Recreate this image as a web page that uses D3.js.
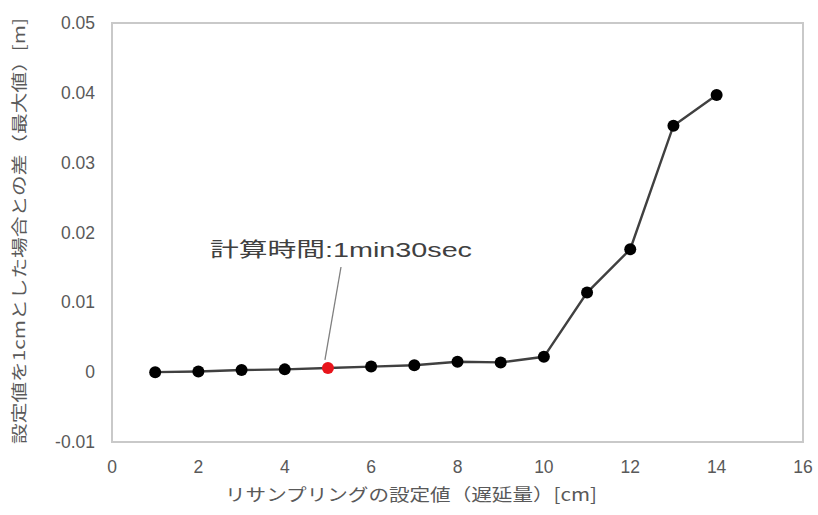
<!DOCTYPE html>
<html><head><meta charset="utf-8">
<script src="https://cdn.jsdelivr.net/npm/d3@7"></script>
<style>body{margin:0;background:#fff}</style>
</head><body>
<svg id="c" width="818" height="515"></svg>
<script>
const xs = [1,2,3,4,5,6,7,8,9,10,11,12,13,14];
const ys = [0.0000,0.0001,0.0003,0.0004,0.0006,0.0008,0.0010,0.0015,0.0014,0.0022,0.0114,0.0176,0.0353,0.0397];
const highlightX = 5;
const xTicks = [0,2,4,6,8,10,12,14,16];
const yTicks = [-0.01,0,0.01,0.02,0.03,0.04,0.05];
const yTickLabels = ["-0.01","0","0.01","0.02","0.03","0.04","0.05"];
const xTitle = "リサンプリングの設定値（遅延量）[cm]";
const yTitle = "設定値を1cmとした場合との差（最大値）[m]";
const annotation = "計算時間:1min30sec";

const font = "'Liberation Sans', Arial, 'Noto Sans CJK JP', sans-serif";
const svg = d3.select("#c");
const L=112, R=803, T=23, B=442;
const x = d3.scaleLinear().domain([0,16]).range([L,R]);
const y = d3.scaleLinear().domain([-0.01,0.05]).range([B,T]);

svg.append("rect").attr("x",L).attr("y",T).attr("width",R-L).attr("height",B-T)
  .attr("fill","none").attr("stroke","#c9c9c9").attr("stroke-width",2);

svg.append("g").selectAll("text").data(yTicks).join("text")
  .attr("x",95).attr("y",d=>y(d)).attr("dy","0.35em").attr("text-anchor","end")
  .attr("font-family",font).attr("font-size",17.5).attr("fill","#595959")
  .text((d,i)=>yTickLabels[i]);

svg.append("g").selectAll("text").data(xTicks).join("text")
  .attr("x",d=>x(d)).attr("y",467).attr("dy","0.35em").attr("text-anchor","middle")
  .attr("font-family",font).attr("font-size",17.5).attr("fill","#595959")
  .text(d=>d);

svg.append("text").attr("x",411).attr("y",495).attr("dy","0.35em").attr("text-anchor","middle")
  .attr("font-family","'Noto Sans CJK JP', sans-serif").attr("font-size",17).attr("fill","#595959")
  .attr("textLength",372).attr("lengthAdjust","spacingAndGlyphs")
  .text(xTitle);

svg.append("text").attr("transform","translate(19,231) rotate(-90)").attr("dy","0.35em")
  .attr("text-anchor","middle")
  .attr("font-family","'Noto Sans CJK JP', sans-serif").attr("font-size",16).attr("fill","#595959")
  .attr("textLength",426).attr("lengthAdjust","spacingAndGlyphs")
  .text(yTitle);

const pts = xs.map((v,i)=>[v,ys[i]]);
svg.append("path").datum(pts)
  .attr("d", d3.line().x(d=>x(d[0])).y(d=>y(d[1])))
  .attr("fill","none").attr("stroke","#404040").attr("stroke-width",2.4);

svg.append("g").selectAll("circle").data(pts).join("circle")
  .attr("cx",d=>x(d[0])).attr("cy",d=>y(d[1])).attr("r",6)
  .attr("fill",d=>d[0]===highlightX?"#e8141b":"#000");

const hy = ys[xs.indexOf(highlightX)];
svg.append("line").attr("x1",341).attr("y1",267).attr("x2",x(highlightX)-3).attr("y2",y(hy)-8)
  .attr("stroke","#7f7f7f").attr("stroke-width",1.3);

svg.append("text").attr("x",210).attr("y",250).attr("dy","0.35em")
  .attr("font-family","'Liberation Sans', Arial, 'Noto Sans CJK JP', sans-serif").attr("font-size",20).attr("fill","#404040")
  .attr("textLength",262).attr("lengthAdjust","spacingAndGlyphs")
  .text(annotation);
</script>
</body></html>
